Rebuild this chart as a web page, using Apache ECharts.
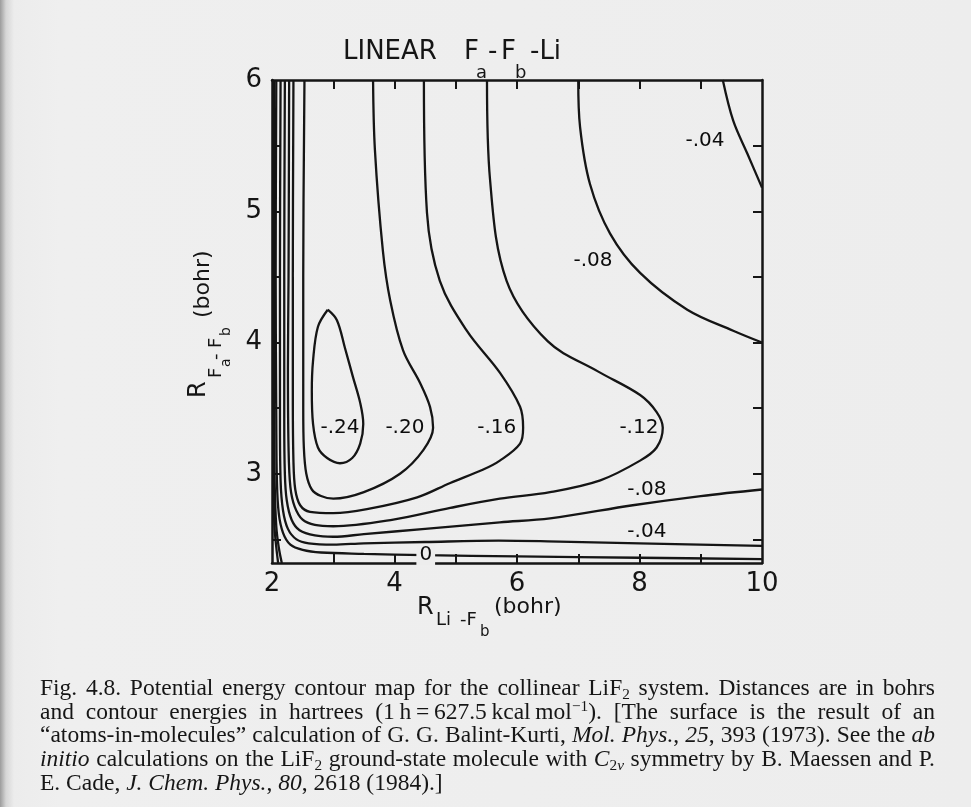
<!DOCTYPE html>
<html>
<head>
<meta charset="utf-8">
<script src="https://cdn.jsdelivr.net/npm/echarts@6/dist/echarts.min.js"></script>
<style>
  html, body { margin: 0; padding: 0; }
  body {
    width: 971px; height: 807px; overflow: hidden; position: relative;
    background: linear-gradient(to right, #9c9c9c 0px, #d6d6d6 6px, #ececec 14px, #efefef 60px, #ededed 100%);
  }
  #chart { position: absolute; left: 0; top: 0; width: 971px; height: 807px; }
  #caption {
    position: absolute; left: 40px; top: 676px; width: 895px;
    font-family: "Liberation Serif", "DejaVu Serif", serif;
    font-size: 23.5px; line-height: 23.7px; color: #161616;
  }
  #caption .ln { white-space: nowrap; text-align: justify; text-align-last: justify; }
  #caption .ln.last { text-align-last: left; }
  #caption sub, #caption sup { font-size: 0.65em; line-height: 0; }
  #caption sub { vertical-align: -0.25em; }
  #caption sup { vertical-align: 0.5em; }
</style>
</head>
<body>
<div id="chart"></div>
<div id="caption">
  <div class="ln">Fig. 4.8. Potential energy contour map for the collinear LiF<sub>2</sub> system. Distances are in bohrs</div>
  <div class="ln">and contour energies in hartrees (1&#8201;h&#8201;=&#8201;627.5&#8201;kcal&#8201;mol<sup>&minus;1</sup>). [The surface is the result of an</div>
  <div class="ln">&ldquo;atoms-in-molecules&rdquo; calculation of G. G. Balint-Kurti, <i>Mol. Phys.</i>, <i>25</i>, 393 (1973). See the <i>ab</i></div>
  <div class="ln"><i>initio</i> calculations on the LiF<sub>2</sub> ground-state molecule with <i>C</i><sub>2<i>v</i></sub> symmetry by B. Maessen and P.</div>
  <div class="ln last">E. Cade, <i>J. Chem. Phys.</i>, <i>80</i>, 2618 (1984).]</div>
</div>
<script>
// axis ranges and ticks (bohr)
const xRange = [2, 10];
const yRange = [2.32, 6];
const xLabels = [2, 4, 6, 8, 10];
const xTicks = [3, 4, 5, 6, 7, 8, 9];
const yLabels = [3, 4, 5, 6];
const yTicks = [2.5, 3, 3.5, 4, 4.5, 5, 5.5];

// contour lines, [R(Li-Fb), R(Fa-Fb)] (hartree levels)
const c024 = [[2.91,4.25],[3.06,4.17],[3.19,3.96],[3.32,3.74],[3.44,3.54],[3.49,3.38],[3.44,3.23],[3.31,3.12],
  [3.11,3.08],[2.90,3.12],[2.75,3.20],[2.67,3.38],[2.65,3.63],[2.67,3.86],[2.75,4.12],[2.91,4.25]];
const c020 = [[3.65,6],[3.68,5.47],[3.81,4.70],[3.93,4.32],[4.14,3.94],[4.42,3.69],[4.58,3.51],[4.63,3.35],
  [4.47,3.18],[4.09,3.00],[3.50,2.86],[3.00,2.81],[2.80,2.83],[2.65,2.88],[2.56,3.00],[2.52,3.20],[2.51,3.50],
  [2.51,4.50],[2.53,6]];
const c016 = [[4.48,6],[4.53,4.99],[4.74,4.47],[5.18,4.09],[5.72,3.77],[6.05,3.51],[6.10,3.35],[6.05,3.23],
  [5.72,3.10],[5.44,3.03],[4.91,2.93],[4.37,2.82],[3.55,2.73],[3.00,2.70],[2.62,2.71],[2.46,2.76],[2.38,2.88],
  [2.35,3.10],[2.34,3.60],[2.34,4.50],[2.35,6]];
const c012 = [[5.51,6],[5.56,5.24],[5.83,4.47],[6.50,4.01],[7.32,3.78],[8.01,3.60],[8.28,3.47],[8.38,3.35],
  [8.28,3.20],[8.01,3.10],[7.36,2.95],[6.54,2.86],[5.72,2.81],[4.91,2.74],[3.98,2.65],[3.00,2.60],[2.70,2.61],
  [2.50,2.65],[2.37,2.75],[2.30,2.90],[2.27,3.20],[2.26,3.80],[2.27,4.50],[2.28,6]];
const c008a = [[7.00,6],[7.03,5.64],[7.19,5.21],[7.52,4.83],[8.01,4.53],[8.78,4.25],[9.53,4.09],[10,4.00]];
const c008b = [[10,2.88],[9.00,2.83],[7.89,2.76],[6.54,2.66],[5.72,2.63],[4.50,2.58],[3.50,2.54],[3.00,2.52],
  [2.70,2.53],[2.45,2.57],[2.32,2.65],[2.24,2.80],[2.21,3.00],[2.20,3.40],[2.20,4.50],[2.21,6]];
const c004a = [[9.36,6],[9.53,5.69],[9.76,5.44],[10,5.18]];
const c004b = [[10,2.45],[8.00,2.47],[6.50,2.485],[5.70,2.49],[4.50,2.48],[3.50,2.47],[3.00,2.46],[2.60,2.47],
  [2.40,2.50],[2.26,2.58],[2.18,2.72],[2.14,2.95],[2.13,3.40],[2.13,4.50],[2.14,6]];
const c000 = [[10,2.35],[8.00,2.36],[6.00,2.37],[4.50,2.38],[3.50,2.39],[2.80,2.40],[2.50,2.42],[2.30,2.46],
  [2.18,2.55],[2.11,2.70],[2.08,2.95],[2.07,3.40],[2.06,4.50],[2.07,6]];
// repulsive wall (positive energies), crowded against x = 2
const cwall1 = [[2.035,6],[2.03,4.50],[2.035,3.40],[2.045,2.90],[2.07,2.60],[2.11,2.44],[2.16,2.32]];
const cwall2 = [[2.018,6],[2.016,4.50],[2.018,3.40],[2.025,2.90],[2.04,2.60],[2.07,2.44],[2.10,2.32]];

// contour labels [x, y, text]
const contourLabels = [
  [3.11, 3.35, '-.24'], [4.17, 3.35, '-.20'], [5.67, 3.35, '-.16'], [7.99, 3.35, '-.12'],
  [7.24, 4.62, '-.08'], [9.07, 5.54, '-.04'], [8.12, 2.88, '-.08'], [8.12, 2.56, '-.04']
];
const zeroLabel = [[4.51, 2.38, '0']];

const ink = '#151515';
const paper = '#ededed';
const font = '"DejaVu Sans", sans-serif';

const contours = [c024, c020, c016, c012, c008a, c008b, c004a, c004b, c000, cwall1, cwall2];

const txt = (text, x, y, size, extra) => Object.assign({
  type: 'text', x: x, y: y,
  style: { text: text, font: size + 'px ' + font, fill: ink,
    align: 'left', verticalAlign: 'middle', textAlign: 'left', textVerticalAlign: 'middle' }
}, extra || {});

const labelSeries = (data, extraLabel) => ({
  type: 'scatter', data: data, symbolSize: 1, silent: true, z: 5,
  itemStyle: { color: 'transparent' },
  label: Object.assign({ show: true, position: 'inside', formatter: p => p.value[2],
    fontSize: 20, fontFamily: font, color: '#0c0c0c', textBorderWidth: 0, opacity: 1 }, extraLabel || {})
});

const myChart = echarts.init(document.getElementById('chart'));
myChart.setOption({
  animation: false,
  backgroundColor: 'transparent',
  grid: { left: 272, top: 80, right: 209, bottom: 244 },
  xAxis: [{
    type: 'value', min: xRange[0], max: xRange[1],
    axisLine: { onZero: false, lineStyle: { color: ink, width: 2.5 } },
    axisTick: { inside: true, length: 9, customValues: xTicks, lineStyle: { color: ink, width: 2 } },
    axisLabel: { customValues: xLabels, fontSize: 26, fontFamily: font, color: ink, margin: 8 },
    splitLine: { show: false }
  }, {
    type: 'value', position: 'top', min: xRange[0], max: xRange[1],
    axisLine: { onZero: false, lineStyle: { color: ink, width: 2.5 } },
    axisTick: { inside: true, length: 9, customValues: xTicks, lineStyle: { color: ink, width: 2 } },
    axisLabel: { show: false },
    splitLine: { show: false }
  }],
  yAxis: [{
    type: 'value', min: yRange[0], max: yRange[1],
    axisLine: { onZero: false, lineStyle: { color: ink, width: 2.5 } },
    axisTick: { inside: true, length: 9, customValues: yTicks, lineStyle: { color: ink, width: 2 } },
    axisLabel: { customValues: yLabels, fontSize: 26, fontFamily: font, color: ink, margin: 10 },
    splitLine: { show: false }
  }, {
    type: 'value', position: 'right', min: yRange[0], max: yRange[1],
    axisLine: { onZero: false, lineStyle: { color: ink, width: 2.5 } },
    axisTick: { inside: true, length: 9, customValues: yTicks, lineStyle: { color: ink, width: 2 } },
    axisLabel: { show: false },
    splitLine: { show: false }
  }],
  series: contours.map(pts => ({
    type: 'line', data: pts, xAxisIndex: 0, yAxisIndex: 0,
    showSymbol: false, smooth: 0.35, silent: true,
    lineStyle: { color: ink, width: 2.3 }
  })).concat([
    labelSeries(contourLabels),
    labelSeries(zeroLabel, { backgroundColor: paper, padding: [0, 3] })
  ]),
  graphic: [
    // title  LINEAR Fa-Fb-Li
    txt('LINEAR', 343, 52, 26),
    txt('F', 464, 52, 26),
    txt('a', 476, 73, 18),
    txt('-', 488, 52, 26),
    txt('F', 501, 52, 26),
    txt('b', 515, 73, 18),
    txt('-Li', 530, 52, 26),
    // x axis name
    txt('R', 417, 608, 24),
    txt('Li', 436, 620, 18),
    txt('-F', 460, 620, 18),
    txt('b', 480, 632, 15),
    txt('(bohr)', 494, 607, 22),
    // y axis name, rotated
    {
      type: 'group', x: 199, y: 398, rotation: Math.PI / 2,
      children: [
        txt('R', 0, 0, 24),
        txt('F', 20, 17, 18),
        txt('a', 31, 27, 14),
        txt('-', 38, 17, 18),
        txt('F', 50, 17, 18),
        txt('b', 62, 27, 14),
        txt('(bohr)', 80, 4, 22)
      ]
    }
  ]
});
</script>
</body>
</html>
